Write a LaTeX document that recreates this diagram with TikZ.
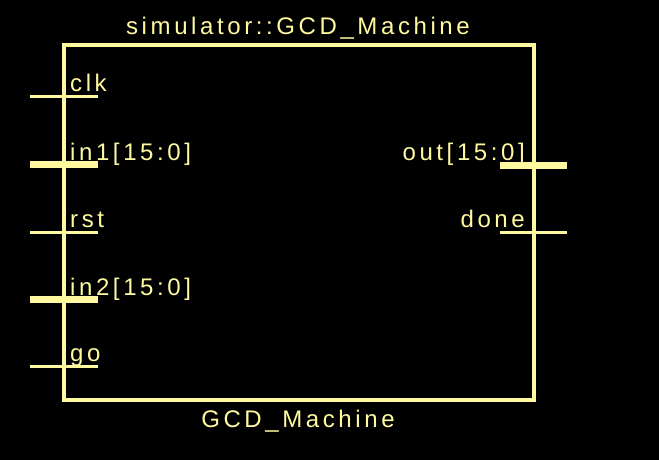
\documentclass[tikz,border=0pt]{standalone}
\usepackage{fontspec}
\setmainfont{Liberation Sans}[LetterSpace=15]
\usepackage{tikz}
\usetikzlibrary{positioning}

\definecolor{symbolyellow}{RGB}{255,250,160}

\tikzset{
    wire/.style={draw=symbolyellow, line width=3pt},
    bus/.style={draw=symbolyellow, line width=7pt},
    lbl/.style={text=symbolyellow, inner sep=0pt, font=\fontsize{24}{28}\selectfont}
}

\begin{document}
\begin{tikzpicture}[x=1pt,y=-1pt]
        \fill[black](0,0) rectangle (659,460);
        \node[draw=symbolyellow, line width=3.5pt, outer sep=0pt, inner sep=0pt, minimum width=470pt, minimum height=355pt, anchor=north west](machine) at (64,45){};
        \node[lbl, anchor=base] (title) at (298,35){simulator::GCD\_Machine};
        \node[lbl, anchor=base] (name) at (298,427){GCD\_Machine};
        \coordinate (clkA) at (30,97);   \coordinate (clkB) at (98,97);
        \coordinate (inoneA) at (30,164); \coordinate (inoneB) at (98,164);
        \coordinate (rstA) at (30,232);   \coordinate (rstB) at (98,232);
        \coordinate (intwoA) at (30,299); \coordinate (intwoB) at (98,299);
        \coordinate (goA) at (30,366);    \coordinate (goB) at (98,366);
        \coordinate (outA) at (500,165);  \coordinate (outB) at (567,165);
        \coordinate (doneA) at (500,232); \coordinate (doneB) at (567,232);
        \draw[wire](clkA)--(clkB);
        \draw[bus](inoneA)--(inoneB);
        \draw[wire](rstA)--(rstB);
        \draw[bus](intwoA)--(intwoB);
        \draw[wire](goA)--(goB);
        \draw[bus](outA)--(outB);
        \draw[wire](doneA)--(doneB);
        \node[lbl, anchor=base west] (clk) at (70,92){clk};
        \node[lbl, anchor=base west] (inone) at (70,160){in1[15:0]};
        \node[lbl, anchor=base west] (rst) at (70,227){rst};
        \node[lbl, anchor=base west] (intwo) at (70,295){in2[15:0]};
        \node[lbl, anchor=base west] (go) at (70,361){go};
        \node[lbl, anchor=base east] (out) at (525,160){out[15:0]};
        \node[lbl, anchor=base east] (done) at (525,227){done};
    \end{tikzpicture}
\end{document}
